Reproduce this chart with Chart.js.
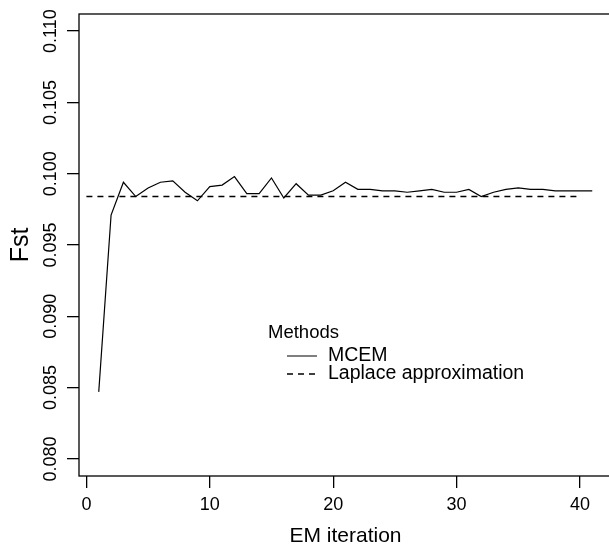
<!DOCTYPE html>
<html>
<head>
<meta charset="utf-8">
<script src="https://cdn.jsdelivr.net/npm/chart.js@4.4.1/dist/chart.umd.min.js"></script>
<style>
  html, body { margin: 0; padding: 0; background: #fff; overflow: hidden; }
  #chart { display: block; }
</style>
</head>
<body>
<canvas id="chart" width="614" height="546"></canvas>
<script>
// EM iterations and MCEM estimates of Fst
const iterations = [
  1, 2, 3, 4, 5, 6, 7, 8, 9, 10,
  11, 12, 13, 14, 15, 16, 17, 18, 19, 20,
  21, 22, 23, 24, 25, 26, 27, 28, 29, 30,
  31, 32, 33, 34, 35, 36, 37, 38, 39, 40, 41,
];
const mcemFst = [
  0.0847, 0.0971, 0.0994, 0.0984, 0.0990, 0.0994, 0.0995, 0.0987, 0.0981, 0.0991,
  0.0992, 0.0998, 0.0986, 0.0986, 0.0997, 0.0983, 0.0993, 0.0985, 0.0985, 0.0988,
  0.0994, 0.0989, 0.0989, 0.0988, 0.0988, 0.0987, 0.0988, 0.0989, 0.0987, 0.0987,
  0.0989, 0.0984, 0.0987, 0.0989, 0.0990, 0.0989, 0.0989, 0.0988, 0.0988, 0.0988, 0.0988,
];

// Laplace approximation, drawn as a flat reference line
const laplaceX = [0, 40];
const laplaceFst = [0.0984, 0.0984];

const xTicks = [0, 10, 20, 30, 40];
const yTicks = [0.080, 0.085, 0.090, 0.095, 0.100, 0.105, 0.110];

const legendTitle = "Methods";
const legendLabels = ["MCEM", "Laplace approximation"];

const FONT = "'Liberation Sans', Arial, Helvetica, sans-serif";

const toPoints = (xs, ys) => xs.map((x, i) => ({ x: x, y: ys[i] }));

// box, rotated y tick labels and the in-plot legend (R base graphics look)
const basePlotDecor = {
  id: "basePlotDecor",
  afterDraw(chart) {
    const { ctx, chartArea } = chart;
    const yScale = chart.scales.y;
    ctx.save();

    ctx.strokeStyle = "#000";
    ctx.lineWidth = 1.3;
    ctx.strokeRect(chartArea.left, chartArea.top,
      chartArea.right - chartArea.left, chartArea.bottom - chartArea.top);

    ctx.fillStyle = "#000";
    ctx.font = "18px " + FONT;
    ctx.textAlign = "center";
    ctx.textBaseline = "middle";
    yTicks.forEach((v) => {
      const py = yScale.getPixelForValue(v);
      ctx.save();
      ctx.translate(51, py);
      ctx.rotate(-Math.PI / 2);
      ctx.fillText(v.toFixed(3), 0, 0);
      ctx.restore();
    });

    // legend (no box)
    const lx = chartArea.left + 189;
    const ly = chartArea.top + 319;
    ctx.textAlign = "left";
    ctx.font = "18.5px " + FONT;
    ctx.fillText(legendTitle, lx, ly);
    ctx.font = "19.5px " + FONT;
    const rowY = [ly + 23, ly + 41];
    const dashes = [[], [6, 5]];
    legendLabels.forEach((label, i) => {
      ctx.beginPath();
      ctx.setLineDash(dashes[i]);
      ctx.lineWidth = i === 0 ? 1 : 1.5;
      ctx.moveTo(lx + 19, rowY[i]);
      ctx.lineTo(lx + 49, rowY[i]);
      ctx.stroke();
      ctx.setLineDash([]);
      ctx.fillText(label, lx + 60, rowY[i]);
    });

    ctx.restore();
  },
};

function renderChart() {
  const ctx = document.getElementById("chart").getContext("2d");
  return new Chart(ctx, {
    type: "line",
    data: {
      datasets: [
        {
          label: legendLabels[0],
          data: toPoints(iterations, mcemFst),
          borderColor: "#000",
          borderWidth: 1.2,
          pointRadius: 0,
          tension: 0,
          fill: false,
        },
        {
          label: legendLabels[1],
          data: toPoints(laplaceX, laplaceFst),
          borderColor: "#000",
          borderWidth: 1.5,
          borderDash: [6, 5],
          pointRadius: 0,
          fill: false,
        },
      ],
    },
    options: {
      responsive: false,
      animation: false,
      events: [],
      layout: { padding: { top: 14, right: 2, left: 0, bottom: 0 } },
      plugins: {
        legend: { display: false },
        tooltip: { enabled: false },
      },
      scales: {
        x: {
          type: "linear",
          min: -0.6,
          max: 42.6,
          afterBuildTicks: (scale) => {
            scale.ticks = xTicks.map((v) => ({ value: v }));
          },
          afterFit: (scale) => { scale.height = 70; },
          grid: {
            display: true,
            drawOnChartArea: false,
            drawTicks: true,
            tickLength: 12,
            color: "#000",
            lineWidth: 1.3,
          },
          border: { display: false },
          ticks: {
            color: "#000",
            padding: 6,
            maxRotation: 0,
            font: { family: FONT, size: 18 },
            callback: (v) => String(v),
          },
          title: {
            display: true,
            text: "EM iteration",
            color: "#000",
            font: { family: FONT, size: 21, lineHeight: 1 },
            padding: { top: 0, bottom: -1 },
          },
        },
        y: {
          type: "linear",
          min: 0.0788,
          max: 0.1112,
          afterBuildTicks: (scale) => {
            scale.ticks = yTicks.map((v) => ({ value: v }));
          },
          afterFit: (scale) => { scale.width = 79; },
          grid: {
            display: true,
            drawOnChartArea: false,
            drawTicks: true,
            tickLength: 12,
            color: "#000",
            lineWidth: 1.3,
          },
          border: { display: false },
          ticks: { display: false },
          title: {
            display: true,
            text: "Fst",
            color: "#000",
            font: { family: FONT, size: 25, lineHeight: 1 },
            padding: { top: 9, bottom: 0 },
          },
        },
      },
    },
    plugins: [basePlotDecor],
  });
}

renderChart();
</script>
</body>
</html>
